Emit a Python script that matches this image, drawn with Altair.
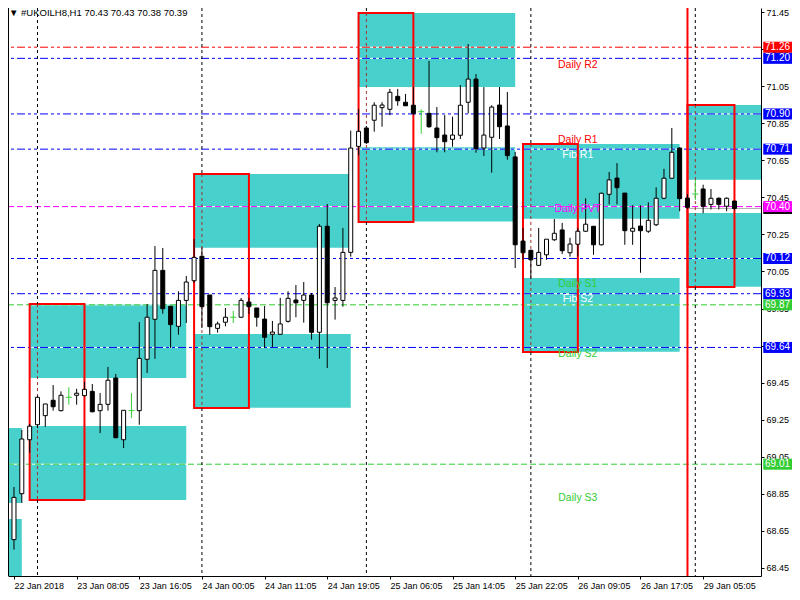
import altair as alt
import pandas as pd
import json

FONT = "Liberation Sans"

# ---------------- data ----------------
bars = list(range(93))
opens = [68.603, 68.851, 69.142, 69.223, 69.272, 69.355, 69.299, 69.371, 69.382, 69.380,
         69.403, 69.299, 69.333, 69.475, 69.142, 69.299, 69.299, 69.576, 69.792, 70.056,
         69.862, 69.754, 69.894, 70.000, 70.132, 69.923, 69.743, 69.776, 69.803, 69.803,
         69.885, 69.853, 69.793, 69.711, 69.711, 69.781, 69.896, 69.894, 69.923, 69.722,
         70.294, 69.894, 69.894, 70.153, 70.725, 70.824, 70.866, 70.934, 70.925, 70.995,
         70.963, 70.947, 70.912, 70.903, 70.824, 70.786, 70.763, 70.785, 70.963, 71.088,
         70.716, 70.774, 70.948, 70.835, 70.668, 70.214, 70.164, 70.083, 70.140, 70.221,
         70.274, 70.151, 70.197, 70.267, 70.294, 70.194, 70.466, 70.554, 70.473, 70.267,
         70.295, 70.267, 70.302, 70.445, 70.553, 70.716, 70.446, 70.468, 70.495, 70.412,
         70.445, 70.402, 70.43]
highs = [68.887, 69.195, 69.227, 69.380, 69.335, 69.437, 69.403, 69.425, 69.417, 69.454,
         69.443, 69.394, 69.535, 69.497, 69.301, 69.394, 69.777, 69.874, 70.187, 70.177,
         69.862, 69.943, 70.026, 70.225, 70.180, 69.923, 69.779, 69.853, 69.837, 69.907,
         69.907, 69.853, 69.864, 69.783, 69.907, 69.943, 69.977, 69.993, 69.934, 70.306,
         70.414, 69.966, 70.285, 70.810, 70.927, 70.835, 70.963, 70.963, 71.035, 71.035,
         71.008, 71.045, 70.925, 71.186, 70.937, 70.894, 70.885, 71.056, 71.277, 71.115,
         71.045, 70.947, 71.045, 71.018, 70.695, 70.285, 70.168, 70.285, 70.225, 70.333,
         70.312, 70.232, 70.285, 70.445, 70.294, 70.475, 70.587, 70.635, 70.473, 70.407,
         70.407, 70.423, 70.504, 70.604, 70.824, 70.720, 70.468, 70.544, 70.518, 70.495,
         70.450, 70.450, 70.43]
lows = [68.549, 68.801, 69.071, 69.205, 69.211, 69.299, 69.295, 69.331, 69.331, 69.375,
        69.290, 69.178, 69.299, 69.150, 69.097, 69.259, 69.223, 69.502, 69.579, 69.822,
        69.637, 69.709, 69.772, 69.988, 69.745, 69.709, 69.720, 69.754, 69.772, 69.800,
        69.820, 69.752, 69.637, 69.641, 69.711, 69.774, 69.803, 69.774, 69.682, 69.579,
        69.529, 69.790, 69.860, 70.130, 70.677, 70.738, 70.804, 70.831, 70.893, 70.944,
        70.943, 70.894, 70.793, 70.825, 70.693, 70.693, 70.723, 70.765, 70.903, 70.691,
        70.673, 70.583, 70.765, 70.653, 70.069, 70.112, 70.011, 70.080, 70.113, 70.215,
        70.144, 70.130, 70.130, 70.265, 70.140, 70.190, 70.412, 70.412, 70.194, 70.194,
        70.043, 70.258, 70.295, 70.440, 70.550, 70.375, 70.387, 70.436, 70.364, 70.385,
        70.385, 70.375, 70.38]
closes = [68.831, 69.146, 69.215, 69.371, 69.335, 69.320, 69.382, 69.371, 69.393, 69.414,
          69.293, 69.333, 69.463, 69.153, 69.301, 69.299, 69.581, 69.803, 70.056, 69.849,
          69.763, 69.894, 69.993, 70.126, 69.860, 69.752, 69.767, 69.803, 69.803, 69.894,
          69.860, 69.803, 69.695, 69.723, 69.767, 69.905, 69.881, 69.923, 69.722, 70.294,
          69.881, 69.907, 70.153, 70.716, 70.806, 70.745, 70.947, 70.948, 71.017, 70.971,
          70.944, 70.903, 70.912, 70.831, 70.772, 70.750, 70.786, 70.947, 71.088, 70.712,
          70.786, 70.937, 70.831, 70.675, 70.194, 70.151, 70.113, 70.153, 70.224, 70.256,
          70.162, 70.198, 70.267, 70.305, 70.194, 70.472, 70.544, 70.502, 70.270, 70.283,
          70.270, 70.326, 70.445, 70.553, 70.693, 70.443, 70.396, 70.468, 70.402, 70.445,
          70.412, 70.445, 70.39]

# cyan session boxes
box_x1 = [-5, -5, 2, 2, 23, 23, 44, 44, 65, 65, 86, 86]
box_x2 = [1, 1, 22, 22, 43, 43, 64, 64, 85, 85, 100, 100]
box_top = [69.205, 68.714, 69.874, 69.216, 70.576, 69.713, 71.445, 70.720, 70.738, 70.015, 70.948, 70.365]
box_bot = [68.801, 68.31, 69.475, 68.817, 70.178, 69.315, 71.045, 70.319, 70.335, 69.617, 70.545, 69.968]

# red range rectangles
rng_x1 = [2, 23, 44, 65, 86]
rng_x2 = [9, 30, 51, 72, 92]
rng_top = [69.874, 70.576, 71.445, 70.738, 70.948]
rng_bot = [68.817, 69.313, 70.317, 69.615, 69.966]

# day separators
sep_bars = [3, 24, 45, 66, 87]

# horizontal levels
level_values = [71.26, 71.20, 70.90, 70.71, 70.40, 70.12, 69.93, 69.87, 69.64, 69.01]
level_colors = ["red", "blue", "blue", "blue", "magenta", "blue", "blue", "limegreen", "blue", "limegreen"]
level_styles = ["dashdot", "dashdot", "dashdot", "dashdot", "dash", "dashdot", "dashdot", "dash", "dashdot", "dash"]

# level names
name_texts = ["Daily R2", "Daily R1", "Fib R1", "Daily PVT", "Daily S1", "Fib S2", "Daily S2", "Daily S3"]
name_values = [71.164, 70.759, 70.678, 70.387, 69.982, 69.901, 69.605, 68.828]
name_colors = ["red", "red", "white", "magenta", "limegreen", "white", "limegreen", "limegreen"]

bid_value = [70.39]
vline_bar = [86]

time_ticks = [0, 8, 16, 24, 32, 40, 48, 56, 64, 72, 80, 88]
time_labels = ["22 Jan 2018", "23 Jan 08:05", "23 Jan 16:05", "24 Jan 00:05", "24 Jan 11:05",
               "24 Jan 19:05", "25 Jan 06:05", "25 Jan 14:05", "25 Jan 22:05", "26 Jan 09:05",
               "26 Jan 17:05", "29 Jan 05:05"]
price_ticks = [71.45, 71.25, 71.05, 70.85, 70.65, 70.45, 70.25, 70.05, 69.85, 69.65,
               69.45, 69.25, 69.05, 68.85, 68.65, 68.45]

title_text = "\u25bc #UKOILH8,H1  70.43 70.43 70.38 70.39"

# ---------------- tables ----------------
candles = pd.DataFrame({"bar": bars, "open": opens, "high": highs, "low": lows, "close": closes})
candles["kind"] = ["doji" if o == c else ("up" if c > o else "down") for o, c in zip(opens, closes)]

boxes = pd.DataFrame({"x1": box_x1, "x2": box_x2, "top": box_top, "bot": box_bot})
ranges = pd.DataFrame({"x1": rng_x1, "x2": rng_x2, "top": rng_top, "bot": rng_bot})
levels = pd.DataFrame({"value": level_values, "color": level_colors, "style": level_styles})
names = pd.DataFrame({"text": name_texts, "value": name_values, "color": name_colors})

X_DOMAIN = [-0.125, 94.75]
Y_DOMAIN = [68.4068, 71.4716]
W, H = 753, 568

seg_rows = []
for b, t, bt in zip(sep_bars, rng_top, rng_bot):
    seg_rows.append({"bar": b, "y1": Y_DOMAIN[1], "y2": t, "color": "black"})
    seg_rows.append({"bar": b, "y1": t, "y2": bt, "color": "#a0302a"})
    seg_rows.append({"bar": b, "y1": bt, "y2": Y_DOMAIN[0], "color": "black"})
seps = pd.DataFrame(seg_rows)

xs = alt.Scale(domain=X_DOMAIN, nice=False, zero=False)
ys = alt.Scale(domain=Y_DOMAIN, nice=False, zero=False)

x_axis = alt.Axis(values=time_ticks,
                  labelExpr="%s[indexof(%s, datum.value)]" % (json.dumps(time_labels), json.dumps(time_ticks)),
                  title=None, grid=False, orient="bottom", tickSize=3, labelAlign="left",
                  labelFont=FONT, labelFontSize=9, labelColor="black", domainColor="black",
                  tickColor="black", labelPadding=2, labelFlush=False, labelOverlap=False)
y_axis = alt.Axis(values=price_ticks, format=".2f", title=None, grid=False, orient="right",
                  tickSize=3, labelAlign="left", labelFont=FONT, labelFontSize=9,
                  labelColor="black", domainColor="black", tickColor="black", labelPadding=2,
                  labelOverlap=False, labelFlush=False)


def X(f):
    return alt.X(f + ":Q", scale=xs, axis=x_axis)


def Y(f):
    return alt.Y(f + ":Q", scale=ys, axis=y_axis)


cyan = alt.Chart(boxes).mark_rect(color="#48D1CC", clip=True).encode(
    x=X("x1"), x2="x2", y=Y("top"), y2="bot")

lvl_under = alt.Chart(levels).mark_rule(color="white", strokeWidth=1).encode(y=Y("value"))
lvl = alt.Chart(levels).mark_rule(strokeWidth=1).encode(
    y=Y("value"),
    color=alt.Color("color:N", scale=None),
    strokeDash=alt.StrokeDash("style:N", scale=alt.Scale(domain=["dashdot", "dash"],
                                                         range=[[8, 3, 3, 3, 3, 3], [6, 3]]), legend=None))

bid_df = pd.DataFrame({"bar": vline_bar, "value": bid_value})
bid = alt.Chart(bid_df).mark_rule(color="#b0b0b0", strokeWidth=1).encode(
    x=X("bar"), x2=alt.value(W), y=Y("value"))

rng = alt.Chart(ranges).mark_rect(filled=False, color="red", strokeWidth=2).encode(
    x=X("x1"), x2="x2", y=Y("top"), y2="bot")

sep = alt.Chart(seps).mark_rule(strokeWidth=1, strokeDash=[3, 3]).encode(
    x=X("bar"), y=Y("y1"), y2="y2", color=alt.Color("color:N", scale=None))

vline = alt.Chart(pd.DataFrame({"bar": vline_bar})).mark_rule(color="red", strokeWidth=2).encode(x=X("bar"))

wick = alt.Chart(candles).transform_filter("datum.kind != 'doji'").mark_rule(
    strokeWidth=1, color="black").encode(x=X("bar"), y=Y("low"), y2="high")
doji_wick = alt.Chart(candles).transform_filter("datum.kind == 'doji'").mark_rule(
    strokeWidth=1, color="limegreen").encode(x=X("bar"), y=Y("low"), y2="high")
body = alt.Chart(candles).transform_filter("datum.kind != 'doji'").mark_bar(
    size=4, stroke="black", strokeWidth=1, opacity=1).encode(
    x=X("bar"), y=Y("open"), y2="close",
    fill=alt.Fill("kind:N", scale=alt.Scale(domain=["up", "down"], range=["white", "black"]), legend=None))
doji = alt.Chart(candles).transform_filter("datum.kind == 'doji'").mark_tick(
    orient="horizontal", size=6, thickness=1, color="limegreen", opacity=1).encode(x=X("bar"), y=Y("open"))

name_txt = alt.Chart(names).mark_text(font=FONT, fontSize=10.5, align="center", baseline="middle").encode(
    x=alt.X(datum=72, scale=xs, axis=x_axis), y=Y("value"), text="text:N", color=alt.Color("color:N", scale=None))

one = pd.DataFrame({"t": [title_text]})
title = alt.Chart(one).mark_text(font=FONT, fontSize=9.5, align="left", baseline="top", color="black").encode(
    x=alt.value(1), y=alt.value(0), text="t:N")

left_frame = alt.Chart(one).mark_rule(color="black", strokeWidth=1).encode(
    x=alt.value(0.5), y=alt.value(0), y2=alt.value(H))

# price labels on the right axis
bid_box = alt.Chart(bid_df).mark_tick(orient="horizontal", size=29.5, thickness=11, opacity=1,
                                      color="black").encode(x=alt.value(770), y=Y("value"))
lab = pd.DataFrame({"value": level_values, "color": level_colors})
lab_box = alt.Chart(lab).mark_tick(orient="horizontal", size=29.5, thickness=11, opacity=1).encode(
    x=alt.value(770), y=Y("value"), color=alt.Color("color:N", scale=None))
lab_txt = alt.Chart(lab).mark_text(
    font=FONT, fontSize=10, align="left", baseline="middle", color="white").encode(
    x=alt.value(757), y=Y("value"), text=alt.Text("value:Q", format=".2f"))

chart = alt.layer(
    cyan, lvl_under, lvl, bid, rng, sep, vline, wick, doji_wick, body, doji, name_txt, title, left_frame,
    bid_box, lab_box, lab_txt
).properties(
    width=W, height=H,
    autosize=alt.AutoSizeParams(type="none"),
    padding={"left": 0, "top": 0, "right": 31, "bottom": 16},
    background="white"
).configure_view(stroke="transparent")

chart.save("out.html", embed_options={"renderer": "svg", "actions": False})
